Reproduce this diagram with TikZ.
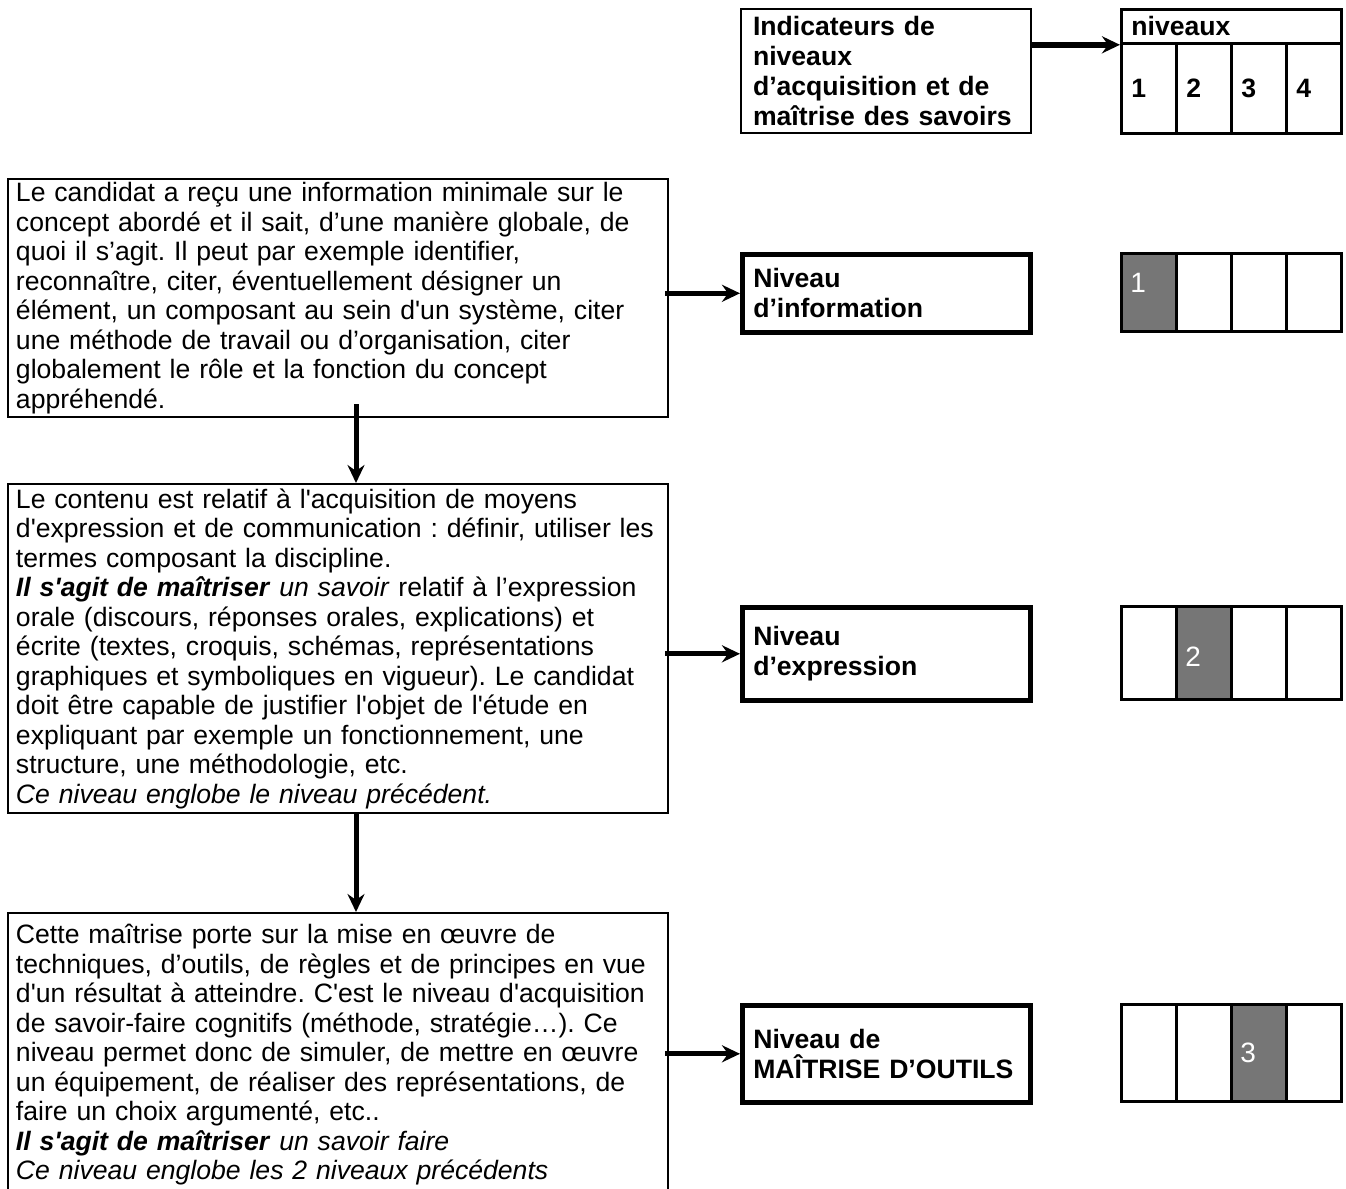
\documentclass[tikz,border=0pt]{standalone}
\usepackage{fontspec}
\setmainfont{Liberation Sans}
\usepackage{tikz}
\usetikzlibrary{positioning,arrows.meta}
\definecolor{shade}{RGB}{118,118,118}
\newcommand{\sq}{\textquotesingle}
\frenchspacing
\tikzset{line/.style={draw, line width=2.5pt, -{Stealth[length=9pt,width=8.5pt,inset=3pt]}}}
\tikzset{txtbox/.style={draw, line width=1pt, anchor=north west, align=left, inner xsep=4pt, inner ysep=0pt, text width=322pt, font=\fontsize{13.3}{14.75}\selectfont}}
\tikzset{lvlbox/.style={draw, line width=2.3pt, anchor=north west, align=left, inner xsep=5.5pt, text width=133pt, font=\bfseries\fontsize{13.3}{15}\selectfont}}
\tikzset{cell/.style={draw, line width=1.4pt, anchor=north west, minimum width=27.5pt, inner sep=0pt}}
\tikzset{digit/.style={text=white, anchor=west, inner sep=0pt, font=\fontsize{14}{14}\selectfont}}

\begin{document}
\begin{tikzpicture}[x=0.5pt,y=-0.5pt]
\useasboundingbox (0,0) rectangle (1346,1189);

\node [draw,line width=1pt,anchor=north west,align=left,text width=133pt,inner xsep=6pt,minimum height=62pt,font=\bfseries\fontsize{13.3}{15}\selectfont] (ind) at (740,8)
  {Indicateurs de\\niveaux\\d’acquisition et de\\maîtrise des savoirs};
\node [cell,minimum width=110pt,minimum height=17pt,align=left,text width=100pt,inner xsep=5pt,font=\bfseries\fontsize{13.3}{15}\selectfont] (hd) at (1120,8) {niveaux};
\foreach \i in {1,...,4}
  \node [cell,minimum height=45pt,align=left,text width=17.5pt,inner xsep=5pt,font=\bfseries\fontsize{13.3}{15}\selectfont] (n\i) at (1065+55*\i,42) {\i};
\draw [line,line width=3pt] (ind.east |- hd.south west) -- (hd.south west);

\node [txtbox,minimum height=119pt] (b1) at (7,178)
  {Le candidat a reçu une information minimale sur le\\
   concept abordé et il sait, d’une manière globale, de\\
   quoi il s’agit. Il peut par exemple identifier,\\
   reconnaître, citer, éventuellement désigner un\\
   élément, un composant au sein d\sq un système, citer\\
   une méthode de travail ou d’organisation, citer\\
   globalement le rôle et la fonction du concept\\
   appréhendé.};
\node [txtbox,minimum height=164.5pt] (b2) at (7,483)
  {Le contenu est relatif à l\sq acquisition de moyens\\
   d\sq expression et de communication : définir, utiliser les\\
   termes composant la discipline.\\
   \textbf{\textit{Il s\sq agit de maîtriser}} \textit{un savoir} relatif à l’expression\\
   orale (discours, réponses orales, explications) et\\
   écrite (textes, croquis, schémas, représentations\\
   graphiques et symboliques en vigueur). Le candidat\\
   doit être capable de justifier l\sq objet de l\sq étude en\\
   expliquant par exemple un fonctionnement, une\\
   structure, une méthodologie, etc.\\
   \textit{Ce niveau englobe le niveau précédent.}};
\node [txtbox,minimum height=142pt] (b3) at (7,912)
  {Cette maîtrise porte sur la mise en œuvre de\\
   techniques, d’outils, de règles et de principes en vue\\
   d\sq un résultat à atteindre. C\sq est le niveau d\sq acquisition\\
   de savoir-faire cognitifs (méthode, stratégie…). Ce\\
   niveau permet donc de simuler, de mettre en œuvre\\
   un équipement, de réaliser des représentations, de\\
   faire un choix argumenté, etc..\\
   \textbf{\textit{Il s\sq agit de maîtriser}} \textit{un savoir faire}\\
   \textit{Ce niveau englobe les 2 niveaux précédents}};

\node [lvlbox,minimum height=39pt] (info) at (740,252) {Niveau\\d’information};
\node [lvlbox,minimum height=46.5pt] (expr) at (740,605) {Niveau\\d’expression};
\node [lvlbox,minimum height=48.5pt] (outil) at (740,1003) {Niveau de\\MAÎTRISE D’OUTILS};

\foreach \row/\y/\h/\g in {p/252/39pt/1,q/605/46.5pt/2,r/1003/48.5pt/3}
  \foreach \i in {1,...,4} {
    \pgfmathtruncatemacro\amt{\i==\g ? 100 : 0}
    \node [cell,fill=shade!\amt!white,minimum height=\h] (\row\i) at (1065+55*\i,\y) {};
  }
\node [digit] at ([xshift=5pt,yshift=5pt]p1.west) {1};
\node [digit] at ([xshift=5pt,yshift=-2pt]q2.west) {2};
\node [digit] at ([xshift=5pt]r3.west) {3};

\draw [line] ([xshift=9pt,yshift=7pt]b1.south) -- ([xshift=9pt]b2.north);
\draw [line] ([xshift=9pt]b2.south) -- ([xshift=9pt]b3.north);
\draw [line] ([xshift=-2pt]b1.east |- info.west) -- (info.west);
\draw [line] ([xshift=-2pt]b2.east |- expr.west) -- (expr.west);
\draw [line] ([xshift=-2pt]b3.east |- outil.west) -- (outil.west);
\end{tikzpicture}
\end{document}
